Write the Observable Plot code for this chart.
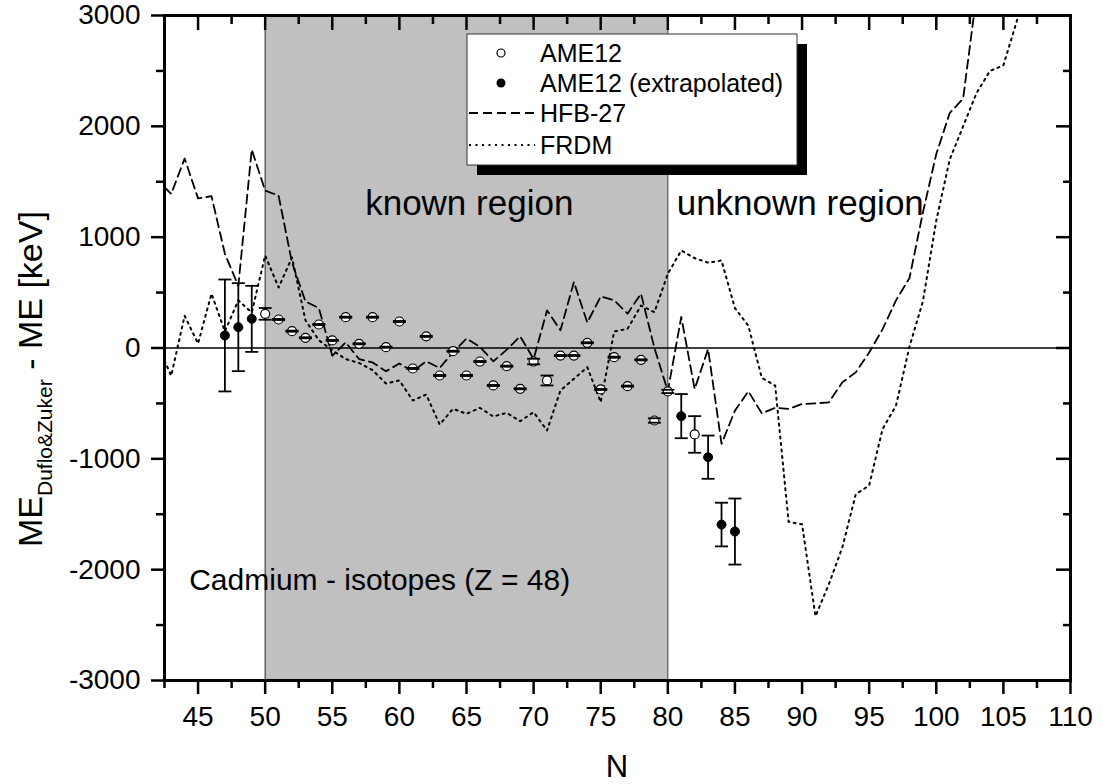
<!DOCTYPE html>
<html><head><meta charset="utf-8">
<script src="https://cdn.jsdelivr.net/npm/d3@7"></script>
<script src="https://cdn.jsdelivr.net/npm/@observablehq/plot@0.6"></script>
<style>body{margin:0;background:#fff} svg{display:block}</style>
</head><body><div id="chart"></div>
<script>
// ---- data ----
const knownRegion = [50, 80];
const xMajor = [45, 50, 55, 60, 65, 70, 75, 80, 85, 90, 95, 100, 105, 110];
const xMinor = [42.5, 47.5, 52.5, 57.5, 62.5, 67.5, 72.5, 77.5, 82.5, 87.5, 92.5, 97.5, 102.5, 107.5];
const yMajor = [-3000, -2000, -1000, 0, 1000, 2000, 3000];
const yMinor = [-2500, -1500, -500, 500, 1500, 2500];

// AME12 (measured)
const ameN   = [50, 51, 52, 53, 54, 55, 56, 57, 58, 59, 60, 61, 62, 63, 64, 65, 66, 67, 68, 69, 70, 71, 72, 73, 74, 75, 76, 77, 78, 79, 80, 82];
const ameVal = [308, 257, 152, 92, 212, 68, 278, 38, 278, 7, 239, -185, 105, -248, -29, -248, -122, -338, -164, -368, -122, -293, -68, -68, 47, -374, -83, -344, -107, -654, -392, -780];
const ameErr = [53, 5, 5, 5, 5, 5, 5, 5, 5, 5, 5, 5, 5, 5, 5, 5, 5, 5, 5, 5, 25, 45, 5, 5, 5, 5, 5, 5, 5, 20, 15, 165];
// AME12 (extrapolated)
const extN   = [47, 48, 49, 81, 83, 84, 85];
const extVal = [113, 188, 263, -615, -985, -1593, -1656];
const extErr = [505, 397, 298, 199, 195, 197, 298];
// HFB-27 (first/last entries are where the curve meets the frame)
const hfbN   = [42.5, 43, 44, 45, 46, 47, 48, 49, 50, 51, 52, 53, 54, 55, 56, 57, 58, 59, 60, 61, 62, 63, 64, 65, 66, 67, 68, 69, 70, 71, 72, 73, 74, 75, 76, 77, 78, 79, 80, 81, 82, 83, 84, 85, 86, 87, 88, 89, 90, 91, 92, 93, 94, 95, 96, 97, 98, 99, 100, 101, 102, 102.8];
const hfbVal = [1451, 1390, 1710, 1350, 1370, 850, 560, 1790, 1420, 1375, 770, 420, 360, -70, 50, -100, -130, -210, -140, -210, -120, -180, -40, 85, 10, -120, -15, 105, -100, 340, 160, 595, 230, 465, 430, 310, 490, 0, -390, 280, -370, -10, -865, -565, -390, -590, -540, -550, -505, -500, -490, -310, -220, -40, 170, 430, 630, 1220, 1750, 2120, 2250, 3000];
// FRDM (first/last entries are where the curve meets the frame)
const frdmN   = [42.5, 43, 44, 45, 46, 47, 48, 49, 50, 51, 52, 53, 54, 55, 56, 57, 58, 59, 60, 61, 62, 63, 64, 65, 66, 67, 68, 69, 70, 71, 72, 73, 74, 75, 76, 77, 78, 79, 80, 81, 82, 83, 84, 85, 86, 87, 88, 89, 90, 91, 92, 93, 94, 95, 96, 97, 98, 99, 100, 101, 102, 103, 104, 105, 106, 106.12];
const frdmVal = [-113, -250, 290, 40, 490, 150, 430, 320, 835, 546, 817, 250, 70, -20, -100, -135, -200, -320, -293, -474, -420, -690, -549, -594, -540, -618, -585, -660, -579, -744, -383, -278, -173, -489, 149, 173, 383, 323, 669, 880, 810, 770, 790, 360, 200, -270, -340, -1570, -1590, -2420, -2130, -1800, -1320, -1240, -730, -520, 10, 420, 1150, 1700, 2000, 2300, 2500, 2550, 2950, 3000];

const legendLabels = ["AME12", "AME12 (extrapolated)", "HFB-27", "FRDM"];
const annotations = [
  {N: 57.45, v: 1297, label: "known region", size: 35},
  {N: 80.66, v: 1297, label: "unknown region", size: 35},
  {N: 44.34, v: -2101, label: "Cadmium - isotopes (Z = 48)", size: 30}
];

// ---- tables ----
const ame = ameN.map((N, i) => ({N, v: ameVal[i], e: ameErr[i]}));
const ext = extN.map((N, i) => ({N, v: extVal[i], e: extErr[i]}));
const hfb = hfbN.map((N, i) => ({N, v: hfbVal[i]}));
const frdm = frdmN.map((N, i) => ({N, v: frdmVal[i]}));
const allPts = ame.concat(ext);
const caps = allPts.flatMap(d => [{N: d.N, v: d.v + d.e}, {N: d.N, v: d.v - d.e}]);

const FONT = "Liberation Sans, Arial, Helvetica, sans-serif";
const capSymbol = {draw(ctx, size) { const w = Math.sqrt(size / Math.PI); ctx.moveTo(-w, 0); ctx.lineTo(w, 0); }};
const blank = () => "";
const TW = 2.5;

const plot = Plot.plot({
  width: 1103, height: 784,
  marginLeft: 164, marginRight: 33, marginTop: 15, marginBottom: 104,
  style: {fontFamily: FONT, background: "white", color: "black", overflow: "visible"},
  x: {domain: [42.5, 110], label: null},
  y: {domain: [-3000, 3000], label: null},
  marks: [
    Plot.rect([knownRegion], {x1: d => d[0], x2: d => d[1], fill: "#c0c0c0"}),
    Plot.ruleX(knownRegion, {stroke: "#333", strokeWidth: 1}),
    Plot.ruleY([0], {stroke: "black", strokeWidth: 1.6}),
    Plot.text(annotations, {x: "N", y: "v", text: "label", fontSize: d => d.size, textAnchor: "start", fill: "black"}),
    Plot.line(hfb, {x: "N", y: "v", stroke: "black", strokeWidth: 1.8, strokeDasharray: "9,5"}),
    Plot.line(frdm, {x: "N", y: "v", stroke: "black", strokeWidth: 2, strokeDasharray: "2,4.5"}),
    Plot.ruleX(allPts, {x: "N", y1: d => d.v - d.e, y2: d => d.v + d.e, stroke: "black", strokeWidth: 1.8}),
    Plot.dot(ame, {x: "N", y: "v", r: 4.5, fill: "white", stroke: "black", strokeWidth: 1.2}),
    Plot.dot(ext, {x: "N", y: "v", r: 4.5, fill: "black", stroke: "black", strokeWidth: 1}),
    Plot.dot(caps, {x: "N", y: "v", symbol: capSymbol, r: 6.5, fill: "none", stroke: "black", strokeWidth: 1.8}),
    // axes
    Plot.axisX(xMajor, {anchor: "bottom", tickSize: 14, tickPadding: 12, fontSize: 28, strokeWidth: TW, tickFormat: d => String(d)}),
    Plot.axisX(xMinor, {anchor: "bottom", tickSize: 8, strokeWidth: TW, tickFormat: blank}),
    Plot.axisX(xMajor, {anchor: "top", tickSize: 14, dy: 14, strokeWidth: TW, tickFormat: blank}),
    Plot.axisX(xMinor, {anchor: "top", tickSize: 8, dy: 8, strokeWidth: TW, tickFormat: blank}),
    Plot.axisY(yMajor, {anchor: "left", tickSize: 13, tickPadding: 11, fontSize: 28, strokeWidth: TW, tickFormat: d => String(d)}),
    Plot.axisY(yMinor, {anchor: "left", tickSize: 8, strokeWidth: TW, tickFormat: blank}),
    Plot.axisY(yMajor, {anchor: "right", tickSize: 15, dx: -15, strokeWidth: TW, tickFormat: blank}),
    Plot.axisY(yMinor, {anchor: "right", tickSize: 8, dx: -8, strokeWidth: TW, tickFormat: blank}),
    Plot.frame({stroke: "black", strokeWidth: 3})
  ]
});
document.getElementById("chart").appendChild(plot);

const svg = d3.select(plot);
const sx = plot.scale("x");

// x-axis title
svg.append("text").attr("x", (sx.apply(42.5) + sx.apply(110)) / 2).attr("y", 777).attr("text-anchor", "middle")
  .attr("font-family", FONT).attr("font-size", 31).attr("fill", "black").text("N");

// y-axis title with subscript
const yl = svg.append("text").attr("transform", "translate(42,547) rotate(-90)")
  .attr("text-anchor", "start").attr("font-family", FONT).attr("font-size", 34).attr("fill", "black");
yl.append("tspan").text("ME");
yl.append("tspan").attr("font-size", 21).attr("dy", 10).text("Duflo&Zuker");
yl.append("tspan").attr("dy", -10).text(" - ME [keV]");

// legend
const lg = svg.append("g").attr("font-family", FONT).attr("text-anchor", "start");
const bx = 467, by = 34, bw = 330, bh = 131;
lg.append("rect").attr("x", bx + 10).attr("y", by + 10).attr("width", bw).attr("height", bh).attr("fill", "black");
lg.append("rect").attr("x", bx).attr("y", by).attr("width", bw).attr("height", bh).attr("fill", "white").attr("stroke", "#333").attr("stroke-width", 1);
const rowY = [53, 83, 113, 145];
legendLabels.forEach((t, i) => {
  lg.append("text").attr("x", 540).attr("y", rowY[i]).attr("dy", "0.36em").attr("font-size", 25).attr("fill", "black").text(t);
});
lg.append("circle").attr("cx", 501).attr("cy", rowY[0]).attr("r", 4).attr("fill", "white").attr("stroke", "black").attr("stroke-width", 1.2);
lg.append("circle").attr("cx", 501).attr("cy", rowY[1]).attr("r", 4.5).attr("fill", "black");
lg.append("line").attr("x1", 469).attr("x2", 535).attr("y1", rowY[2]).attr("y2", rowY[2]).attr("stroke", "black").attr("stroke-width", 1.8).attr("stroke-dasharray", "9,5");
lg.append("line").attr("x1", 469).attr("x2", 535).attr("y1", rowY[3]).attr("y2", rowY[3]).attr("stroke", "black").attr("stroke-width", 2).attr("stroke-dasharray", "2,4.5");
</script>
</body></html>
